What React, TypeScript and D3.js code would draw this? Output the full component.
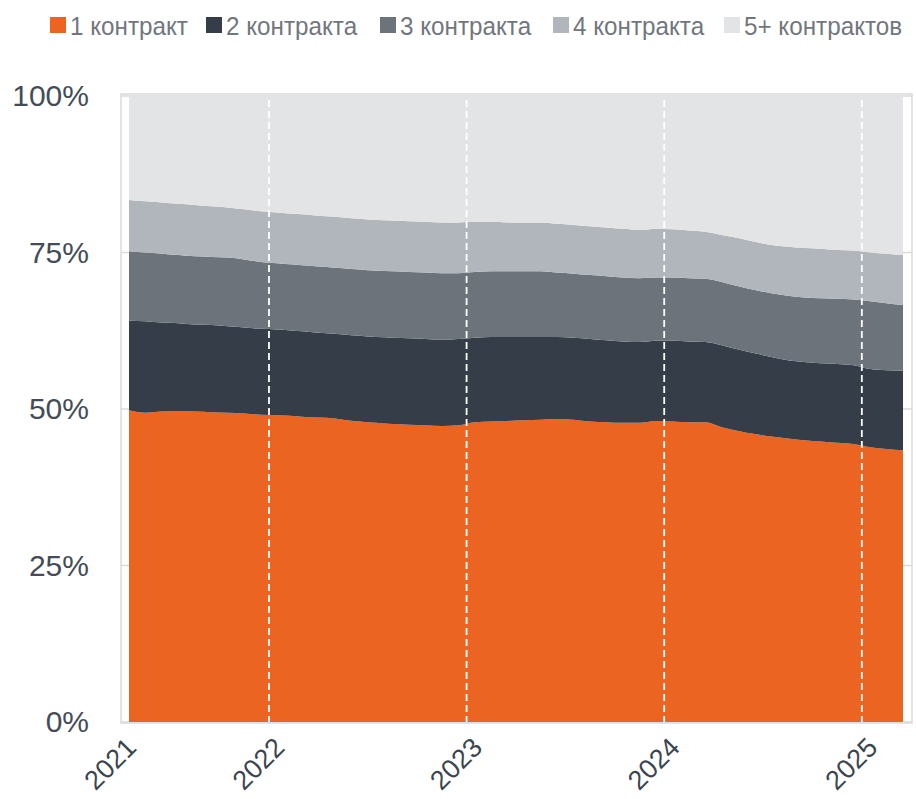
import React from "react";
import * as d3 from "d3";

const months = [
  "2021-04","2021-05","2021-06","2021-07","2021-08","2021-09","2021-10","2021-11","2021-12",
  "2022-01","2022-02","2022-03","2022-04","2022-05","2022-06","2022-07","2022-08","2022-09","2022-10","2022-11","2022-12",
  "2023-01","2023-02","2023-03","2023-04","2023-05","2023-06","2023-07","2023-08","2023-09","2023-10","2023-11","2023-12",
  "2024-01","2024-02","2024-03","2024-04","2024-05","2024-06","2024-07","2024-08","2024-09","2024-10","2024-11","2024-12",
  "2025-01","2025-02","2025-03",
];

const seriesNames = ["1 контракт", "2 контракта", "3 контракта", "4 контракта", "5+ контрактов"];

const s1 = [49.8,49.4,49.6,49.7,49.6,49.5,49.4,49.3,49.1,49.0,48.9,48.7,48.6,48.3,48.0,47.8,47.6,47.5,47.4,47.3,47.4,47.9,48.0,48.1,48.2,48.3,48.4,48.3,48.0,47.9,47.8,47.8,48.1,48.0,47.9,47.9,47.1,46.5,46.0,45.6,45.3,45.0,44.8,44.6,44.4,43.9,43.6,43.4];
const s2 = [14.3,14.6,14.2,14.0,13.9,13.9,13.8,13.7,13.7,13.7,13.6,13.6,13.5,13.6,13.7,13.7,13.8,13.8,13.8,13.8,13.8,13.5,13.5,13.4,13.3,13.2,13.1,13.1,13.2,13.1,13.0,12.9,12.8,12.9,12.9,12.8,13.1,13.0,12.9,12.7,12.5,12.5,12.5,12.6,12.6,12.5,12.6,12.7];
const s3 = [11.1,11.0,11.0,10.9,10.9,10.9,11.0,10.9,10.7,10.6,10.6,10.6,10.6,10.6,10.6,10.6,10.6,10.6,10.6,10.6,10.5,10.5,10.5,10.5,10.5,10.5,10.3,10.2,10.2,10.2,10.2,10.2,10.1,10.1,10.1,10.1,10.1,10.1,10.1,10.2,10.3,10.3,10.4,10.4,10.5,10.8,10.7,10.5];
const s4 = [8.2,8.2,8.2,8.2,8.2,8.1,8.0,8.0,8.1,8.1,8.1,8.1,8.1,8.1,8.1,8.1,8.1,8.1,8.1,8.1,8.1,8.0,7.9,7.8,7.8,7.8,7.8,7.8,7.8,7.8,7.8,7.7,7.8,7.7,7.6,7.5,7.5,7.7,7.7,7.7,7.8,7.9,7.9,7.8,7.8,7.8,7.9,8.0];
const s5 = [16.6,16.8,17.0,17.2,17.4,17.6,17.8,18.1,18.4,18.6,18.8,19.0,19.2,19.4,19.6,19.8,19.9,20.0,20.1,20.2,20.2,20.1,20.1,20.2,20.2,20.2,20.4,20.6,20.8,21.0,21.2,21.4,21.2,21.3,21.5,21.7,22.2,22.7,23.3,23.8,24.1,24.3,24.4,24.6,24.7,25.0,25.2,25.4];

const yTicks = [0, 25, 50, 75, 100];
const xLabelMonths = ["2021-04", "2022-01", "2023-01", "2024-01", "2025-01"];
const xLabels = ["2021", "2022", "2023", "2024", "2025"];

const colors = ["#EC6421", "#343D48", "#6C737B", "#B0B6BC", "#E3E4E6"];

const W = 916, H = 799;
const left = 129, right = 903, top = 96, bottom = 722;
const frameL = 121, frameR = 912, frameT = 94, frameB = 723;

export default function App() {
  const values = [s1, s2, s3, s4, s5];
  const rows = months.map((m, i) => {
    const r: any = { month: m };
    seriesNames.forEach((n, k) => (r[n] = values[k][i]));
    return r;
  });
  const stacked = d3.stack().keys(seriesNames)(rows as any);
  const x = d3.scalePoint<string>().domain(months).range([left, right]);
  const y = d3.scaleLinear().domain([0, 100]).range([bottom, top]);
  const area = d3
    .area<any>()
    .x((d) => x(d.data.month) as number)
    .y0((d) => y(d[0]))
    .y1((d) => y(d[1]))
    .curve(d3.curveMonotoneX);

  const yearBreaks: number[] = [];
  months.forEach((m, i) => {
    if (i > 0 && m.endsWith("-01")) {
      yearBreaks.push(((x(months[i - 1]) as number) + (x(m) as number)) / 2);
    }
  });

  const legendX = [50, 206, 380, 553, 724];
  const font = "'Liberation Sans', Arial, Helvetica, sans-serif";

  return (
    <svg width={W} height={H} style={{ position: "absolute", left: 0, top: 0, background: "#fff" }} fontFamily={font}>
      {seriesNames.map((n, k) => (
        <g key={n} transform={`translate(${legendX[k]},0)`}>
          <rect x={0} y={17} width={16} height={16} fill={colors[k]} />
          <text x={20} y={35} fontSize={25} fill="#72777E" transform="translate(20,35) scale(0.97,1.05) translate(-20,-35)">{n}</text>
        </g>
      ))}
      {yTicks.map((t) => (
        <line key={t} x1={frameL} x2={frameR} y1={y(t)} y2={y(t)} stroke="#DADADA" strokeWidth={1.5} />
      ))}
      <rect x={frameL} y={frameT} width={frameR - frameL} height={frameB - frameT} fill="none" stroke="#DADADA" strokeWidth={1.5} />
      {stacked.map((s, k) => (
        <path key={k} d={area(s as any) as string} fill={colors[k]} />
      ))}
      {yearBreaks.map((bx, i) => (
        <line key={i} x1={bx} x2={bx} y1={top + 4} y2={bottom} stroke="#fff" strokeWidth={1.8} strokeDasharray="7,4" />
      ))}
      {yTicks.map((t) => (
        <text key={t} x={89} y={y(t) + 10} textAnchor="end" fontSize={30} fill="#444D57">{t}%</text>
      ))}
      {xLabelMonths.map((m, i) => {
        const px = (x(m) as number) + 9;
        const py = 749;
        return (
          <text key={m} transform={`translate(${px},${py}) rotate(-45)`} textAnchor="end" fontSize={27} fill="#3B4550">
            {xLabels[i]}
          </text>
        );
      })}
    </svg>
  );
}
